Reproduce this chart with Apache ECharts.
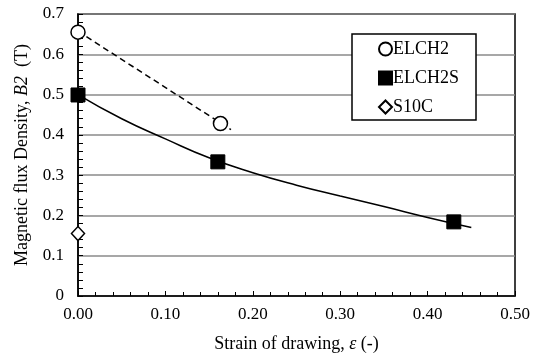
<!DOCTYPE html>
<html>
<head>
<meta charset="utf-8">
<script src="https://cdn.jsdelivr.net/npm/echarts@6/dist/echarts.min.js"></script>
<style>
html,body{margin:0;padding:0;background:#fff;}
#c{width:538px;height:358px;}
</style>
</head>
<body>
<div id="c"></div>
<script>
// Data
var elch2X = [0.000, 0.163];
var elch2Y = [0.655, 0.428];
var elch2sX = [0.000, 0.160, 0.430];
var elch2sY = [0.499, 0.333, 0.184];
var s10cX = [0.000];
var s10cY = [0.155];
// trend lines
var trendX = [0.00, 0.05, 0.10, 0.15, 0.20, 0.25, 0.30, 0.35, 0.40, 0.45];
var trendY = [0.500, 0.440, 0.390, 0.343, 0.306, 0.275, 0.248, 0.222, 0.195, 0.170];
var dashX = [0.000, 0.175];
var dashY = [0.657, 0.413];

function pairs(xs, ys){ return xs.map(function(x,i){ return [x, ys[i]]; }); }

var FONT = '"Liberation Serif", "Times New Roman", serif';
var chart = echarts.init(document.getElementById('c'));
chart.setOption({
  animation: false,
  backgroundColor: '#fff',
  grid: { left: 78, right: 23, top: 14, bottom: 62, show: true, borderColor: '#000', borderWidth: 1.5, backgroundColor: 'transparent' },
  legend: {
    left: 352, top: 34, orient: 'vertical',
    padding: [6, 17, 4, 26],
    itemGap: 11, itemWidth: 13, itemHeight: 13,
    backgroundColor: '#fff', borderColor: '#000', borderWidth: 1.5, borderRadius: 0,
    textStyle: { fontFamily: FONT, fontSize: 18, color: '#000', padding: [0,0,0,-4] },
    data: ['ELCH2', 'ELCH2S', 'S10C']
  },
  xAxis: {
    type: 'value', min: 0, max: 0.5, interval: 0.1,
    name: '{r|Strain of drawing, }{i|ε}{r| (-)}',
    nameLocation: 'middle', nameGap: 39,
    nameTextStyle: { rich: { r: { fontFamily: FONT, fontSize: 18, color: '#000' }, i: { fontFamily: FONT, fontSize: 18, fontStyle: 'italic', color: '#000' } } },
    axisLine: { show: true, lineStyle: { color: '#000', width: 1.5 } },
    axisTick: { show: true, inside: true, length: 5, lineStyle: { color: '#000' } },
    minorTick: { show: true, splitNumber: 5, length: 4, lineStyle: { color: '#000' } },
    splitLine: { show: false },
    axisLabel: { fontFamily: FONT, fontSize: 17, color: '#000', margin: 10, formatter: function(v){ return v.toFixed(2); } }
  },
  yAxis: {
    type: 'value', min: 0, max: 0.7, interval: 0.1,
    name: '{r|Magnetic flux Density, }{i|B2}{r|  (T)}',
    nameLocation: 'middle', nameGap: 47, nameRotate: 90,
    nameTextStyle: { rich: { r: { fontFamily: FONT, fontSize: 18, color: '#000' }, i: { fontFamily: FONT, fontSize: 18, fontStyle: 'italic', color: '#000' } } },
    axisLine: { show: true, lineStyle: { color: '#000', width: 1.5 } },
    axisTick: { show: true, inside: true, length: 5, lineStyle: { color: '#000' } },
    minorTick: { show: true, splitNumber: 5, length: 5, lineStyle: { color: '#000' } },
    splitLine: { show: true, lineStyle: { color: '#8a8a8a', width: 1.5 } },
    axisLabel: { fontFamily: FONT, fontSize: 17, color: '#000', margin: 14, formatter: function(v){ return v === 0 ? '0' : v.toFixed(1); } }
  },
  series: [
    { name: 'trend', type: 'line', data: pairs(trendX, trendY), smooth: true, showSymbol: false, silent: true, z: 2,
      lineStyle: { color: '#000', width: 1.5 } },
    { name: 'dash', type: 'line', data: pairs(dashX, dashY), showSymbol: false, silent: true, z: 2,
      lineStyle: { color: '#000', width: 1.5, type: [6, 4] } },
    { name: 'ELCH2', type: 'scatter', data: pairs(elch2X, elch2Y), symbol: 'circle', symbolSize: 14, clip: false, z: 5,
      itemStyle: { color: '#fff', borderColor: '#000', borderWidth: 1.5, opacity: 1 } },
    { name: 'ELCH2S', type: 'scatter', data: pairs(elch2sX, elch2sY), symbol: 'rect', symbolSize: 14, clip: false, z: 5,
      itemStyle: { color: '#000', borderColor: '#000', borderWidth: 1, opacity: 1 } },
    { name: 'S10C', type: 'scatter', data: pairs(s10cX, s10cY), symbol: 'diamond', symbolSize: [13, 14], clip: false, z: 5,
      itemStyle: { color: '#fff', borderColor: '#000', borderWidth: 1.5, opacity: 1 } }
  ]
});
</script>
</body>
</html>
